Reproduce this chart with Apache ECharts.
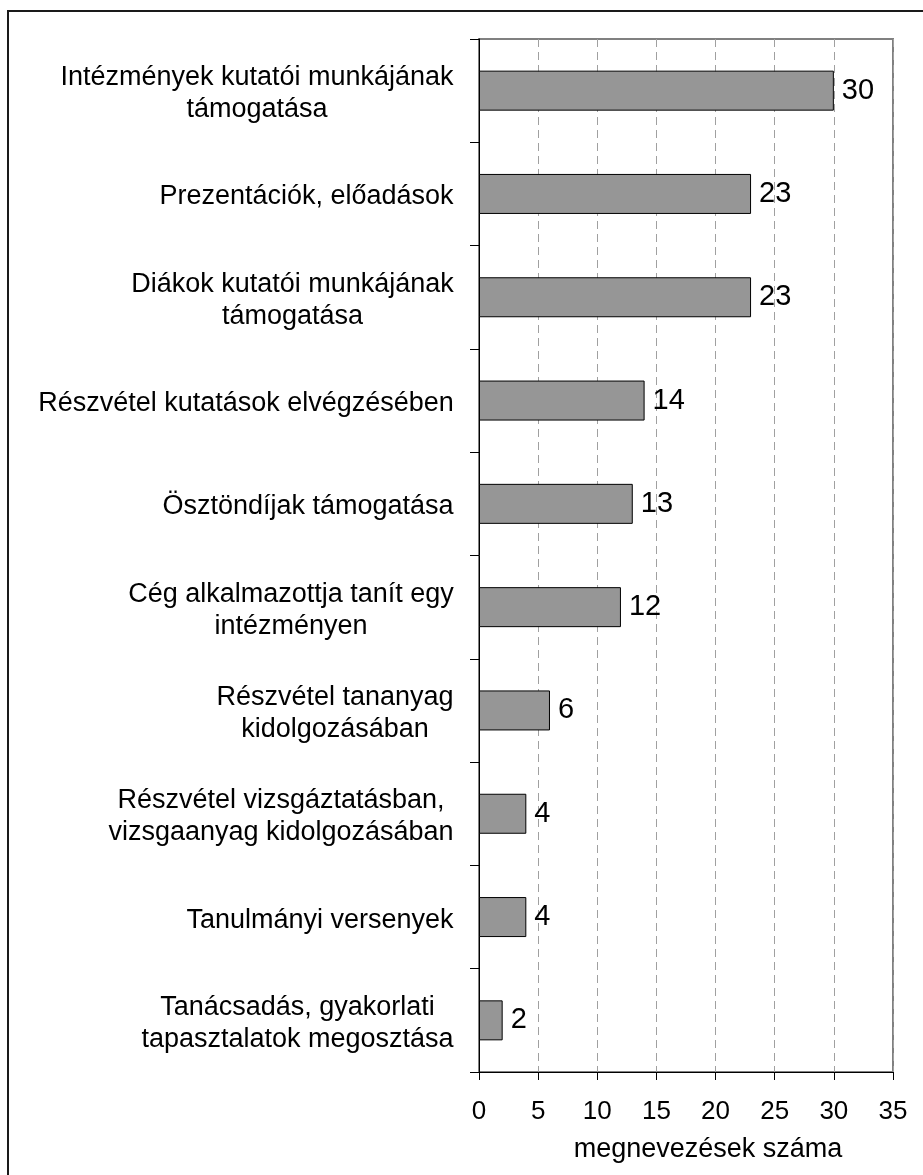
<!DOCTYPE html>
<html>
<head>
<meta charset="utf-8">
<script src="https://cdn.jsdelivr.net/npm/echarts@6/dist/echarts.min.js"></script>
<style>
  html, body { margin: 0; padding: 0; background: #fff; }
  #chart { width: 923px; height: 1175px; }
</style>
</head>
<body>
<div id="chart"></div>
<script>
// Cooperation forms, listed top to bottom
const categories = [
  'Intézmények kutatói munkájának\ntámogatása',
  'Prezentációk, előadások',
  'Diákok kutatói munkájának\ntámogatása',
  'Részvétel kutatások elvégzésében',
  'Ösztöndíjak támogatása',
  'Cég alkalmazottja tanít egy\nintézményen',
  'Részvétel tananyag\nkidolgozásában',
  'Részvétel vizsgáztatásban,\nvizsgaanyag kidolgozásában',
  'Tanulmányi versenyek',
  'Tanácsadás, gyakorlati\ntapasztalatok megosztása'
];
// Number of mentions
const counts = [30, 23, 23, 14, 13, 12, 6, 4, 4, 2];
// Value axis ticks
const xTicks = [0, 5, 10, 15, 20, 25, 30, 35];
const axisTitle = 'megnevezések száma';

const FONT = '"Liberation Sans", Arial, sans-serif';
const LABEL_SIZE = 27;

// Each category label is a block whose lines are centred inside it;
// the block itself sits right-aligned against the axis.
const ctx = document.createElement('canvas').getContext('2d');
ctx.font = LABEL_SIZE + 'px ' + FONT;
const rich = {};
categories.forEach((c, i) => {
  const w = Math.max(...c.split('\n').map(s => ctx.measureText(s).width));
  rich['r' + i] = {
    width: Math.ceil(w) + 2,
    align: 'center',
    fontSize: LABEL_SIZE,
    fontFamily: FONT,
    color: '#000',
    lineHeight: 32
  };
});

const chart = echarts.init(document.getElementById('chart'), null, { renderer: 'canvas' });
chart.setOption({
  animation: false,
  backgroundColor: '#fff',
  graphic: [{
    type: 'rect',
    z: -10,
    shape: { x: 8, y: 11, width: 1000, height: 1300 },
    style: { fill: 'none', stroke: '#1a1a1a', lineWidth: 2 }
  }],
  grid: {
    left: 479, right: 30, top: 39, bottom: 103,
    show: true,
    borderColor: '#808080',
    borderWidth: 2,
    backgroundColor: 'transparent'
  },
  xAxis: {
    type: 'value',
    min: xTicks[0],
    max: xTicks[xTicks.length - 1],
    interval: xTicks[1] - xTicks[0],
    name: axisTitle,
    nameLocation: 'middle',
    nameGap: 64,
    nameTextStyle: { fontSize: 27, fontFamily: FONT, color: '#000', padding: [0, 0, 0, 44] },
    axisLine: { show: true, lineStyle: { color: '#000', width: 1 } },
    axisTick: { show: true, length: 8, lineStyle: { color: '#000', width: 1 } },
    axisLabel: { fontSize: 26, fontFamily: FONT, color: '#000', margin: 27 },
    splitLine: { show: true, lineStyle: { color: '#a0a0a0', width: 1, type: [8, 5] } }
  },
  yAxis: {
    type: 'category',
    data: categories,
    inverse: true,
    axisLine: { show: true, lineStyle: { color: '#000', width: 1 } },
    axisTick: { show: true, length: 9, alignWithLabel: false, lineStyle: { color: '#000', width: 1 } },
    axisLabel: {
      margin: 24,
      align: 'right',
      padding: [6, 0, 0, 0],
      formatter: (value, idx) => value.split('\n').map(s => '{r' + idx + '|' + s + '}').join('\n'),
      rich: rich
    },
    splitLine: { show: false }
  },
  series: [{
    type: 'bar',
    data: counts,
    barWidth: 40,
    itemStyle: { color: '#969696', borderColor: '#000', borderWidth: 1 },
    label: {
      show: true,
      position: 'right',
      distance: 8,
      fontSize: 29,
      fontFamily: FONT,
      color: '#000'
    }
  }]
});
</script>
</body>
</html>
